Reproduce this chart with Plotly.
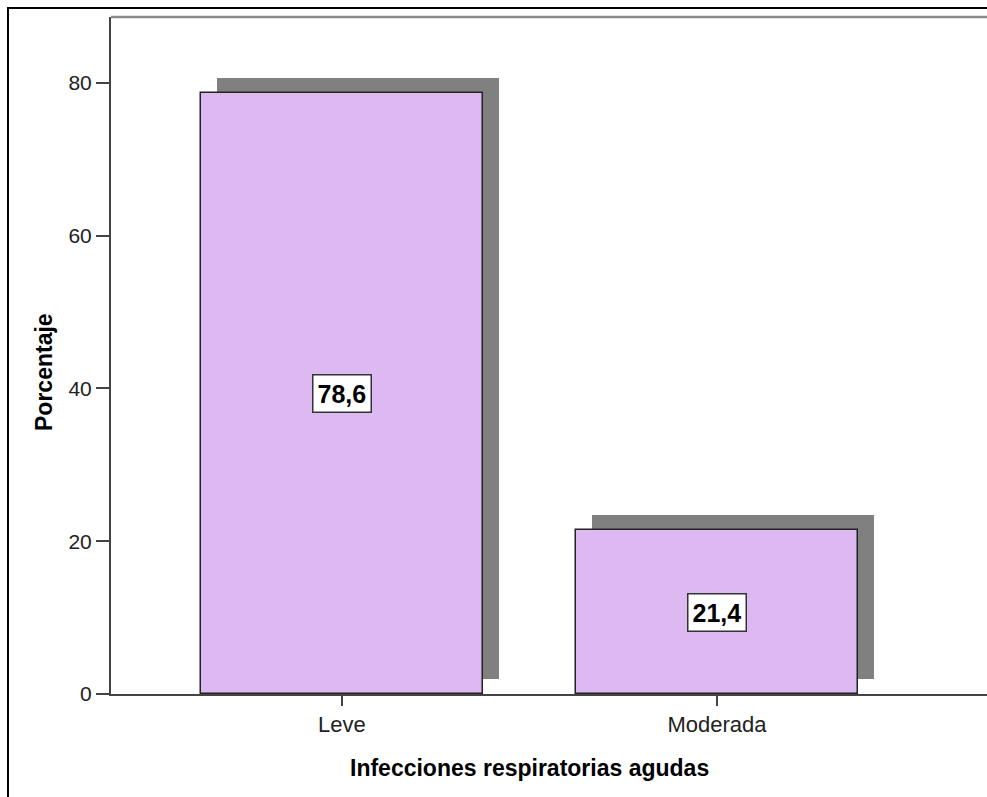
import plotly.graph_objects as go

# Data
categories = ["Leve", "Moderada"]
percentages = [78.6, 21.4]
value_labels = ["78,6", "21,4"]
y_ticks = [0, 20, 40, 60, 80]
x_title = "Infecciones respiratorias agudas"
y_title = "Porcentaje"

# Styling constants
BAR_COLOR = "#DDB9F2"
SHADOW_COLOR = "#808080"
BAR_WIDTH = 0.75
SHADOW_DX = 0.043   # horizontal drop-shadow shift (category units)
SHADOW_DY = 2.0     # vertical drop-shadow shift (percent units)
FONT = "Liberation Sans, Arial, sans-serif"

fig = go.Figure()

# Drop shadow behind each bar
fig.add_trace(go.Bar(
    x=categories,
    y=percentages,
    base=[SHADOW_DY] * len(percentages),
    width=BAR_WIDTH,
    offset=-BAR_WIDTH / 2 + SHADOW_DX,
    marker=dict(color=SHADOW_COLOR, line=dict(width=0)),
    hoverinfo="skip",
    showlegend=False,
))

# Main bars
fig.add_trace(go.Bar(
    x=categories,
    y=percentages,
    width=BAR_WIDTH,
    offset=-BAR_WIDTH / 2,
    marker=dict(color=BAR_COLOR, line=dict(color="#222222", width=1.5)),
    showlegend=False,
))

# Value labels in boxes at mid-height of each bar
for cat, val, lab in zip(categories, percentages, value_labels):
    fig.add_annotation(
        x=cat, y=val / 2, text=f"<b>{lab}</b>", showarrow=False,
        font=dict(family=FONT, size=25, color="black"),
        bgcolor="white", bordercolor="#333333", borderwidth=1.5, borderpad=4,
    )

# Axis titles
fig.add_annotation(
    xref="paper", yref="paper", x=0.4783, y=-0.1093,
    xanchor="center", yanchor="middle", showarrow=False,
    text=f"<b>{x_title}</b>", font=dict(family=FONT, size=23, color="black"),
)
fig.add_annotation(
    xref="paper", yref="paper", x=-0.0765, y=0.4756,
    xanchor="center", yanchor="middle", showarrow=False, textangle=-90,
    text=f"<b>{y_title}</b>", font=dict(family=FONT, size=23, color="black"),
)

# Outer frame of the chart
fig.add_shape(type="rect", xref="paper", yref="paper",
              x0=-0.1176, x1=1.2, y0=-0.3, y1=1.0133,
              line=dict(color="black", width=2), fillcolor="rgba(0,0,0,0)")
# Top border of the plotting area
fig.add_shape(type="line", xref="paper", yref="paper",
              x0=0, x1=1.1, y0=1, y1=1,
              line=dict(color="#8a8a8a", width=2.5))

fig.update_layout(
    width=987, height=797,
    margin=dict(l=111, r=0, t=17, b=103),
    paper_bgcolor="white", plot_bgcolor="white",
    barmode="overlay",
    bargap=0,
    font=dict(family=FONT, size=22, color="#222222"),
    xaxis=dict(
        type="category",
        range=[-0.6155, 1.7197],
        showline=True, linecolor="#444444", linewidth=2,
        ticks="outside", ticklen=10, tickwidth=1.5, tickcolor="#444444",
        tickfont=dict(size=22, color="#222222"),
        showgrid=False, zeroline=False,
    ),
    yaxis=dict(
        range=[0, 88.6],
        tickvals=y_ticks,
        showline=True, linecolor="#444444", linewidth=2,
        ticks="outside", ticklen=13, tickwidth=2, tickcolor="#444444",
        tickfont=dict(size=21, color="#222222"),
        showgrid=False, zeroline=False,
    ),
)

fig.write_html("out.html")
